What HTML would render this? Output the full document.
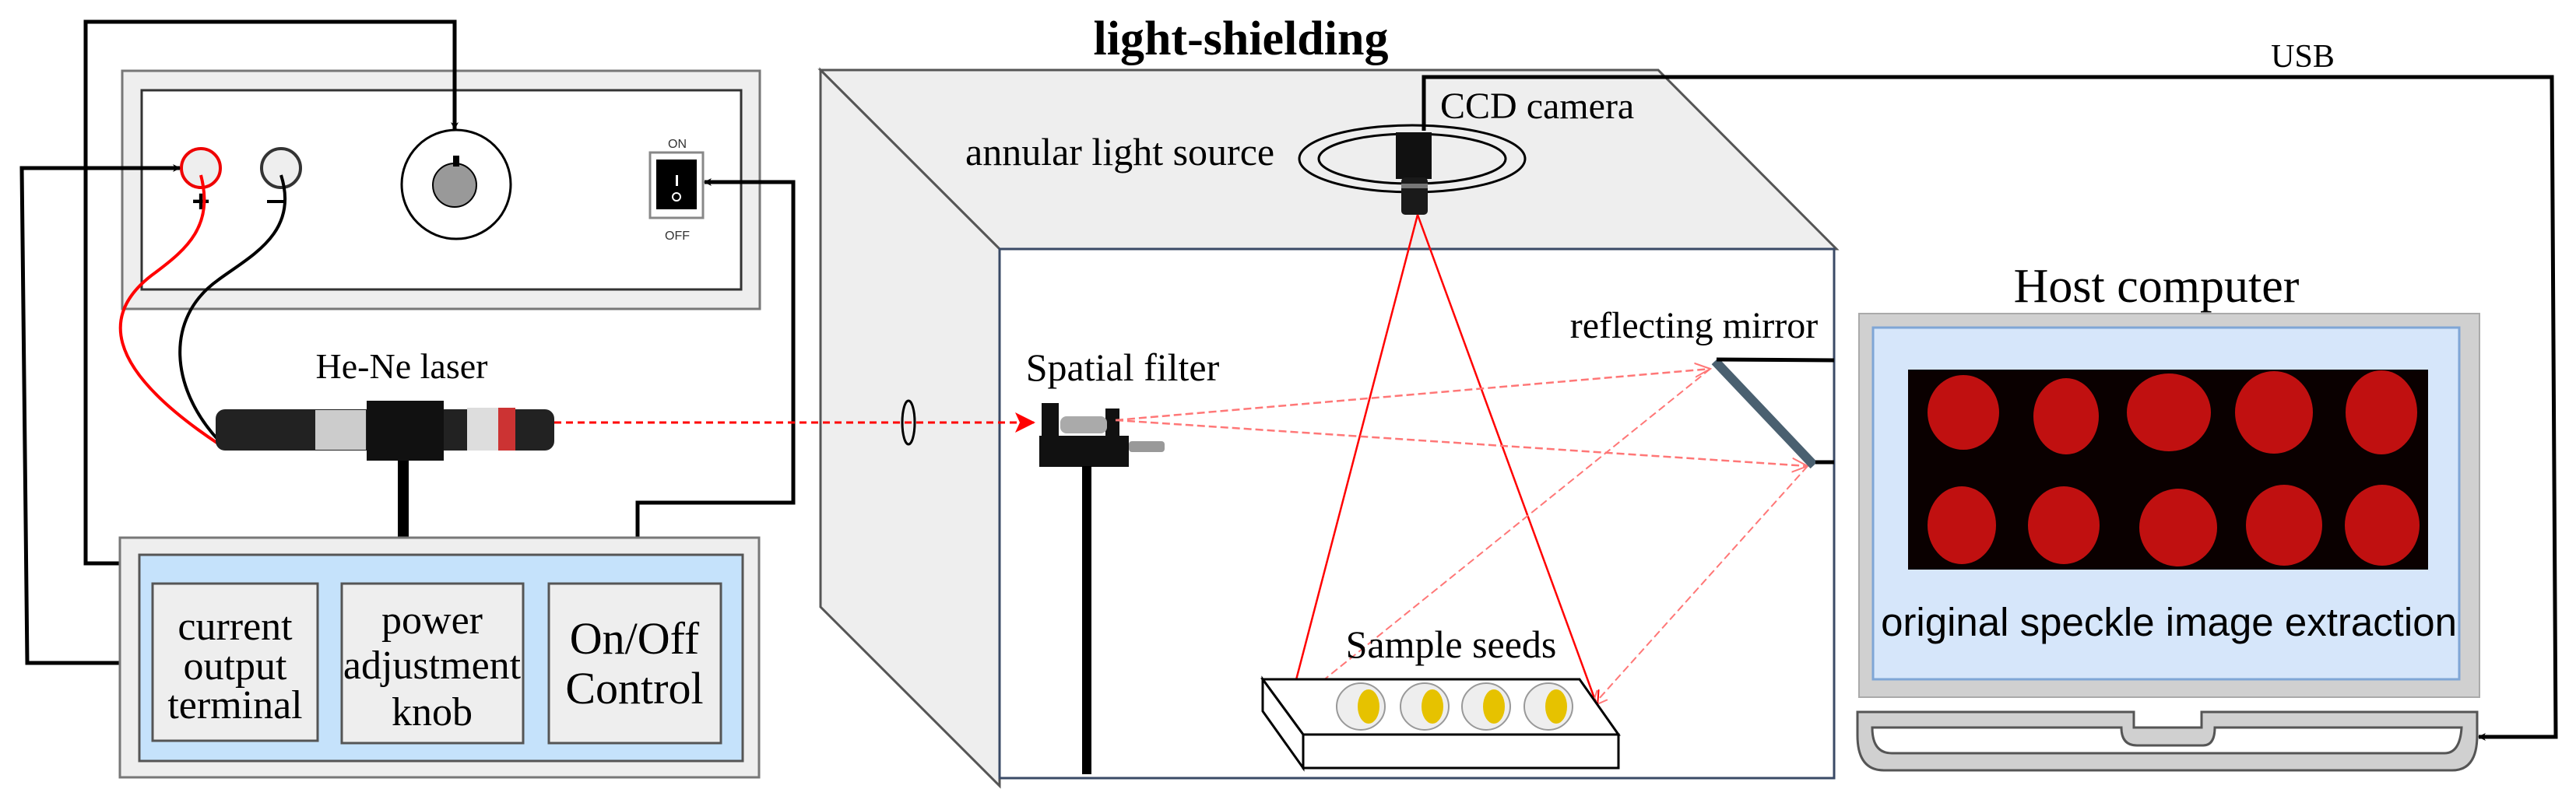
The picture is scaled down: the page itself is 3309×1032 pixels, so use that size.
<!DOCTYPE html>
<html><head><meta charset="utf-8"><style>html,body{margin:0;padding:0;background:#fff}svg{display:block}</style></head>
<body>
<svg width="3309" height="1032" viewBox="0 0 3309 1032" xmlns="http://www.w3.org/2000/svg" font-family="Liberation Serif, serif">
<defs>
<marker id="ab" markerWidth="10" markerHeight="10" refX="9" refY="5" orient="auto" markerUnits="userSpaceOnUse" viewBox="0 0 10 10"><path d="M0,0 L10,5 L0,10 L3,5 z" fill="#000"/></marker>
<marker id="ar" markerWidth="26" markerHeight="26" refX="24" refY="13" orient="auto" markerUnits="userSpaceOnUse" viewBox="0 0 26 26"><path d="M0,0 L26,13 L0,26 L6,13 z" fill="#f00"/></marker>
<marker id="ao" markerWidth="22" markerHeight="22" refX="20" refY="11" orient="auto" markerUnits="userSpaceOnUse" viewBox="0 0 22 22"><path d="M0,2 L20,11 L0,20" fill="none" stroke="#f00" stroke-width="2"/></marker>
<marker id="ap" markerWidth="22" markerHeight="22" refX="20" refY="11" orient="auto" markerUnits="userSpaceOnUse" viewBox="0 0 22 22"><path d="M0,2 L20,11 L0,20" fill="none" stroke="#f77" stroke-width="2"/></marker>
</defs>

<!-- top panel -->
<rect x="157" y="91" width="819" height="306" fill="#eee" stroke="#777" stroke-width="3"/>
<rect x="182" y="116" width="770" height="256" fill="#fff" stroke="#333" stroke-width="3"/>
<circle cx="258" cy="216" r="25" fill="#eee" stroke="#e00" stroke-width="4"/>
<circle cx="361" cy="216" r="25" fill="#eee" stroke="#333" stroke-width="4"/>
<text x="258" y="272" font-size="40" text-anchor="middle" font-family="Liberation Sans, sans-serif" font-weight="bold">+</text>
<rect x="343" y="257" width="24" height="4" fill="#000"/>
<circle cx="586" cy="237" r="70" fill="#fff" stroke="#000" stroke-width="3"/>
<circle cx="584" cy="238" r="28" fill="#999" stroke="#000" stroke-width="2"/>
<rect x="582" y="200" width="8" height="14" fill="#000"/>
<text x="870" y="190" font-size="16" text-anchor="middle" font-family="Liberation Sans, sans-serif" fill="#333">ON</text>
<rect x="835" y="196" width="68" height="84" fill="#fff" stroke="#888" stroke-width="3"/>
<rect x="843" y="205" width="52" height="64" fill="#000"/>
<rect x="868" y="225" width="3" height="14" fill="#fff"/>
<circle cx="869" cy="253" r="5" fill="none" stroke="#fff" stroke-width="2"/>
<text x="870" y="308" font-size="16" text-anchor="middle" font-family="Liberation Sans, sans-serif" fill="#333">OFF</text>

<!-- wires -->
<path d="M258,225 C275,290 240,320 200,350 C130,400 130,470 280,570" fill="none" stroke="#f00" stroke-width="4"/>
<path d="M361,225 C385,300 320,330 280,360 C210,410 220,500 280,565" fill="none" stroke="#000" stroke-width="4"/>
<path d="M554,747 L554,724 L110,724 L110,28 L584,28 L584,166" fill="none" stroke="#000" stroke-width="5" marker-end="url(#ab)"/>
<path d="M196,852 L35,852 L28,216 L231,216" fill="none" stroke="#000" stroke-width="5" marker-end="url(#ab)"/>
<path d="M819,750 L819,646 L1019,646 L1019,234 L905,234" fill="none" stroke="#000" stroke-width="5" marker-end="url(#ab)"/>

<!-- laser -->
<text x="516" y="486" font-size="46" text-anchor="middle">He-Ne laser</text>
<rect x="277" y="526" width="435" height="53" rx="12" fill="#222"/>
<rect x="405" y="527" width="65" height="51" fill="#ccc"/>
<rect x="600" y="524" width="60" height="55" fill="#ddd"/>
<rect x="640" y="524" width="22" height="55" fill="#c33"/>
<rect x="471" y="515" width="99" height="77" fill="#111"/>
<rect x="511" y="592" width="14" height="100" fill="#000"/>

<!-- bottom control box -->
<rect x="154" y="691" width="821" height="308" fill="#eee" stroke="#777" stroke-width="3"/>
<rect x="179" y="713" width="775" height="265" fill="#c5e2fb" stroke="#555" stroke-width="3"/>
<rect x="196" y="750" width="212" height="202" fill="#eee" stroke="#555" stroke-width="3"/>
<rect x="439" y="750" width="233" height="205" fill="#eee" stroke="#555" stroke-width="3"/>
<rect x="705" y="750" width="221" height="205" fill="#eee" stroke="#555" stroke-width="3"/>
<g font-size="52" text-anchor="middle">
<text x="302" y="822">current</text><text x="302" y="873">output</text><text x="302" y="923">terminal</text>
<text x="555" y="814">power</text><text x="555" y="872">adjustment</text><text x="555" y="932">knob</text>
<text x="815" y="840" font-size="58">On/Off</text><text x="815" y="904" font-size="58">Control</text>
</g>

<!-- light shielding box -->
<text x="1594" y="70" font-size="62" font-weight="bold" text-anchor="middle">light-shielding</text>
<polygon points="1054,90 2130,90 2359,320 1284,320" fill="#eee" stroke="#555" stroke-width="3"/>
<polygon points="1054,90 1284,320 1284,1010 1054,780" fill="#eee" stroke="#555" stroke-width="3"/>
<rect x="1284" y="320" width="1072" height="680" fill="#fff" stroke="#3a4a66" stroke-width="3"/>
<ellipse cx="1167" cy="543" rx="8" ry="28" fill="none" stroke="#000" stroke-width="3"/>
<line x1="712" y1="543" x2="1328" y2="543" stroke="#f00" stroke-width="3" stroke-dasharray="9,6" marker-end="url(#ar)"/>

<!-- camera -->
<ellipse cx="1814" cy="204" rx="145" ry="43" fill="none" stroke="#000" stroke-width="3"/>
<ellipse cx="1814" cy="204" rx="120" ry="32" fill="none" stroke="#000" stroke-width="3"/>
<rect x="1793" y="170" width="46" height="60" fill="#111"/>
<rect x="1800" y="228" width="34" height="48" rx="5" fill="#1a1a1a"/>
<rect x="1800" y="236" width="34" height="6" fill="#777"/>
<text x="1850" y="152" font-size="48">CCD camera</text>
<text x="1240" y="212" font-size="50">annular light source</text>
<path d="M1829,168 L1829,99 L3278,99 L3283,947 L3184,947" fill="none" stroke="#000" stroke-width="5" marker-end="url(#ab)"/>
<text x="2958" y="86" font-size="42" text-anchor="middle">USB</text>

<!-- spatial filter -->
<text x="1442" y="489" font-size="50" text-anchor="middle">Spatial filter</text>
<rect x="1335" y="560" width="115" height="40" fill="#111"/>
<rect x="1338" y="518" width="22" height="60" fill="#111"/>
<rect x="1420" y="525" width="18" height="45" fill="#111"/>
<rect x="1362" y="535" width="60" height="22" rx="8" fill="#aaa"/>
<rect x="1450" y="567" width="46" height="14" rx="4" fill="#999"/>
<rect x="1390" y="599" width="12" height="396" fill="#000"/>

<!-- rays -->
<line x1="1821" y1="276" x2="1656" y2="908" stroke="#f00" stroke-width="2.5" marker-end="url(#ao)"/>
<line x1="1821" y1="276" x2="2052" y2="908" stroke="#f00" stroke-width="2.5" marker-end="url(#ao)"/>
<line x1="1433" y1="540" x2="2197" y2="474" stroke="#f77" stroke-width="2.5" stroke-dasharray="10,5" marker-end="url(#ap)"/>
<line x1="1433" y1="540" x2="2322" y2="599" stroke="#f77" stroke-width="2.5" stroke-dasharray="10,5" marker-end="url(#ap)"/>
<line x1="2197" y1="474" x2="1658" y2="908" stroke="#f77" stroke-width="2" stroke-dasharray="10,5" marker-end="url(#ap)"/>
<line x1="2322" y1="599" x2="2045" y2="908" stroke="#f77" stroke-width="2" stroke-dasharray="10,5" marker-end="url(#ap)"/>

<!-- mirror -->
<line x1="2203" y1="464" x2="2330" y2="598" stroke="#4a6070" stroke-width="12"/>
<path d="M2205,462 L2356,463 M2332,594 L2356,594" stroke="#000" stroke-width="5"/>
<text x="2176" y="434" font-size="48" text-anchor="middle">reflecting mirror</text>

<!-- tray -->
<text x="1864" y="845" font-size="50" text-anchor="middle">Sample seeds</text>
<polygon points="1622,873 2029,873 2079,944 1674,944" fill="#fff" stroke="#000" stroke-width="3"/>
<polygon points="1622,873 1674,944 1674,987 1622,914" fill="#fff" stroke="#000" stroke-width="3"/>
<rect x="1674" y="944" width="405" height="43" fill="#fff" stroke="#000" stroke-width="3"/>
<g fill="#eee" stroke="#999" stroke-width="2">
<ellipse cx="1748" cy="908" rx="31" ry="30"/><ellipse cx="1830" cy="908" rx="31" ry="30"/><ellipse cx="1909" cy="908" rx="31" ry="30"/><ellipse cx="1989" cy="908" rx="31" ry="30"/>
</g>
<g fill="#e6c200">
<ellipse cx="1758" cy="908" rx="14" ry="22"/><ellipse cx="1840" cy="908" rx="14" ry="22"/><ellipse cx="1919" cy="908" rx="14" ry="22"/><ellipse cx="1999" cy="908" rx="14" ry="22"/>
</g>

<!-- computer -->
<text x="2770" y="388" font-size="62" text-anchor="middle">Host computer</text>
<rect x="2388" y="403" width="797" height="493" fill="#d0d0d0" stroke="#aaa" stroke-width="2"/>
<rect x="2406" y="421" width="753" height="452" fill="#d6e6fa" stroke="#7fa6d6" stroke-width="3"/>
<rect x="2451" y="475" width="668" height="257" fill="#0a0000"/>
<g fill="#c01010">
<ellipse cx="2522" cy="530" rx="46" ry="48"/><ellipse cx="2654" cy="535" rx="42" ry="49"/><ellipse cx="2786" cy="530" rx="54" ry="50"/><ellipse cx="2921" cy="530" rx="50" ry="53"/><ellipse cx="3059" cy="530" rx="46" ry="54"/>
<ellipse cx="2520" cy="675" rx="44" ry="50"/><ellipse cx="2651" cy="675" rx="46" ry="50"/><ellipse cx="2798" cy="678" rx="50" ry="50"/><ellipse cx="2934" cy="675" rx="49" ry="52"/><ellipse cx="3060" cy="675" rx="48" ry="52"/>
</g>
<text x="2786" y="817" font-size="51" text-anchor="middle" font-family="Liberation Sans, sans-serif">original speckle image extraction</text>
<path d="M2386,915 L2741,915 L2741,935 L2828,935 L2828,915 L3182,915 L3182,945 Q3182,990 3150,990 L2420,990 Q2386,990 2386,945 Z" fill="#d0d0d0" stroke="#555" stroke-width="3"/>
<path d="M2405,935 L2725,935 Q2725,958 2745,958 L2830,958 Q2845,958 2845,935 L3162,935 Q3160,968 3140,968 L2430,968 Q2405,968 2405,935 Z" fill="#fff" stroke="#555" stroke-width="3"/>
</svg>
</body></html>
